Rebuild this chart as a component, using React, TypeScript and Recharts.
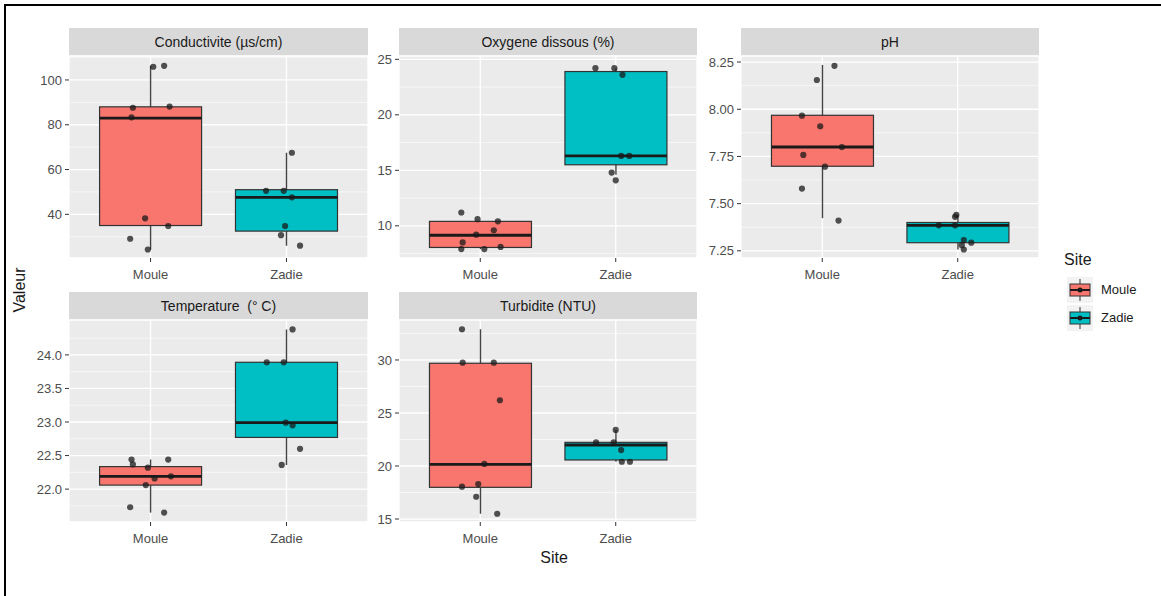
import React from "react";
import {
  ComposedChart,
  Bar,
  Scatter,
  XAxis,
  YAxis,
  CartesianGrid,
} from "recharts";

const SITES = ["Moule", "Zadie"];
const SITE_FILL = ["#F8766D", "#00BFC4"];

// box stats: [low whisker, q1, median, q3, high whisker] for Moule, Zadie
const condBox = [[24.3, 35, 83, 88, 106.3], [26.0, 32.5, 47.6, 51, 67.5]];
const condMouleVal = [105.9, 106.3, 87.6, 88.1, 83.3, 38.2, 34.8, 29.1, 24.3];
const condMouleJit = [0.02, 0.1, -0.13, 0.14, -0.14, -0.04, 0.13, -0.15, -0.02];
const condZadieVal = [67.5, 50.5, 50.5, 47.6, 34.8, 30.7, 26.0];
const condZadieJit = [0.04, -0.15, -0.02, 0.04, -0.01, -0.04, 0.1];
const condTicks = [40, 60, 80, 100];
const condDomain = [20.5, 110.7];

const oxyBox = [[7.9, 8.05, 9.15, 10.4, 10.4], [14.6, 15.5, 16.3, 23.9, 24.2]];
const oxyMouleVal = [11.2, 10.6, 10.4, 9.6, 9.2, 8.5, 8.1, 7.9, 7.9];
const oxyMouleJit = [-0.14, -0.02, 0.13, 0.1, -0.03, -0.13, 0.15, -0.14, 0.03];
const oxyZadieVal = [24.2, 24.2, 23.6, 16.3, 16.3, 14.8, 14.1];
const oxyZadieJit = [-0.15, -0.01, 0.05, 0.04, 0.1, -0.03, 0.0];
const oxyTicks = [10, 15, 20, 25];
const oxyDomain = [7.1, 25.3];

const phBox = [[7.423, 7.698, 7.8, 7.968, 8.235], [7.257, 7.293, 7.385, 7.4, 7.44]];
const phMouleVal = [8.23, 8.155, 7.966, 7.91, 7.8, 7.758, 7.696, 7.58, 7.41];
const phMouleJit = [0.09, -0.04, -0.15, -0.015, 0.145, -0.14, 0.02, -0.15, 0.12];
const phZadieVal = [7.44, 7.43, 7.385, 7.385, 7.307, 7.293, 7.28, 7.257];
const phZadieJit = [-0.01, -0.02, -0.14, -0.02, 0.045, 0.1, 0.03, 0.045];
const phTicks = [7.25, 7.5, 7.75, 8.0, 8.25];
const phDomain = [7.212, 8.282];

const tempBox = [[21.65, 22.06, 22.19, 22.335, 22.44], [22.36, 22.77, 22.99, 23.89, 24.38]];
const tempMouleVal = [22.44, 22.37, 22.32, 22.44, 22.19, 22.16, 22.06, 21.73, 21.65];
const tempMouleJit = [-0.14, -0.13, -0.02, 0.13, 0.15, 0.03, -0.035, -0.15, 0.1];
const tempZadieVal = [24.38, 23.89, 23.89, 22.99, 22.95, 22.6, 22.36];
const tempZadieJit = [0.045, -0.145, -0.02, -0.005, 0.045, 0.1, -0.035];
const tempTicks = [22, 22.5, 23, 23.5, 24];
const tempDomain = [21.51, 24.52];

const turbBox = [[15.5, 17.99, 20.16, 29.69, 32.9], [20.4, 20.57, 21.98, 22.23, 23.4]];
const turbMouleVal = [32.9, 29.75, 29.75, 26.2, 20.2, 18.05, 18.3, 17.1, 15.5];
const turbMouleJit = [-0.135, -0.13, 0.1, 0.145, 0.03, -0.135, -0.015, -0.03, 0.125];
const turbZadieVal = [23.4, 22.23, 22.23, 21.5, 20.4, 20.4];
const turbZadieJit = [0, -0.145, -0.015, 0.04, 0.045, 0.105];
const turbTicks = [15, 20, 25, 30];
const turbDomain = [14.72, 33.77];

const FONT = "'Liberation Sans', Arial, sans-serif";
const PANEL_H = 202;
const AXIS_W = 60;
const TOP_PAD = 10;

type PanelDef = {
  title: string;
  left: number;
  top: number;
  width: number;
  box: number[][];
  vals: number[][];
  jits: number[][];
  ticks: number[];
  domain: number[];
  digits: number;
};

const panels: PanelDef[] = [
  { title: "Conductivite (µs/cm)", left: 69, top: 28, width: 299, box: condBox,
    vals: [condMouleVal, condZadieVal], jits: [condMouleJit, condZadieJit],
    ticks: condTicks, domain: condDomain, digits: 0 },
  { title: "Oxygene dissous (%)", left: 399, top: 28, width: 298, box: oxyBox,
    vals: [oxyMouleVal, oxyZadieVal], jits: [oxyMouleJit, oxyZadieJit],
    ticks: oxyTicks, domain: oxyDomain, digits: 0 },
  { title: "pH", left: 741, top: 28, width: 298, box: phBox,
    vals: [phMouleVal, phZadieVal], jits: [phMouleJit, phZadieJit],
    ticks: phTicks, domain: phDomain, digits: 2 },
  { title: "Temperature  (° C)", left: 69, top: 292, width: 299, box: tempBox,
    vals: [tempMouleVal, tempZadieVal], jits: [tempMouleJit, tempZadieJit],
    ticks: tempTicks, domain: tempDomain, digits: 1 },
  { title: "Turbidite (NTU)", left: 399, top: 292, width: 298, box: turbBox,
    vals: [turbMouleVal, turbZadieVal], jits: [turbMouleJit, turbZadieJit],
    ticks: turbTicks, domain: turbDomain, digits: 0 },
];

function whiskerRange(d: any) {
  if (!d || !d.stats) return null;
  return [d.stats[0], d.stats[4]];
}

function BoxShape(props: any) {
  const { x, y, width, height, payload } = props;
  if (!payload || !payload.stats) return null;
  const [lo, q1, med, q3, hi] = payload.stats;
  const top = Math.min(y, y + height);
  const h = Math.abs(height);
  const py = (v: number) => top + (h * (hi - v)) / (hi - lo);
  const cx = x + width / 2;
  return (
    <g>
      <line x1={cx} x2={cx} y1={py(hi)} y2={py(lo)} stroke="#444" strokeWidth={1.4} />
      <rect x={x} y={py(q3)} width={width} height={py(q1) - py(q3)} fill={payload.fill} stroke="#333" strokeWidth={1.2} />
      <line x1={x} x2={x + width} y1={py(med)} y2={py(med)} stroke="#1a1a1a" strokeWidth={2.8} />
    </g>
  );
}

function Dot(props: any) {
  if (props.cx == null || props.cy == null) return null;
  return <circle cx={props.cx} cy={props.cy} r={3.1} fill="#1a1a1a" fillOpacity={0.75} />;
}

function Panel({ p }: { p: PanelDef }) {
  const rows = SITES.map((site, i) => ({ site, stats: p.box[i], fill: SITE_FILL[i] }));
  const pts = p.vals.flatMap((vs, i) => vs.map((v, k) => ({ x: i + 1 + p.jits[i][k], v })));
  const step = p.ticks[1] - p.ticks[0];
  const minor = [p.ticks[0] - step / 2, ...p.ticks.map((t) => t + step / 2)].filter(
    (m) => m > p.domain[0] && m < p.domain[1]
  );
  const pad = p.width / 22;
  const tickStyle = { fill: "#4D4D4D", fontSize: 13, fontFamily: FONT };

  return (
    <>
      <div
        style={{
          position: "absolute",
          left: p.left,
          top: p.top,
          width: p.width,
          height: 28,
          background: "#D9D9D9",
          color: "#1A1A1A",
          fontSize: 14,
          lineHeight: "28px",
          textAlign: "center",
          whiteSpace: "pre",
        }}
      >
        {p.title}
      </div>
      <div style={{ position: "absolute", left: p.left - AXIS_W, top: p.top + 28 - TOP_PAD }}>
        <ComposedChart
          width={p.width + AXIS_W}
          height={PANEL_H + 40 + TOP_PAD}
          data={rows}
          margin={{ top: TOP_PAD, right: 0, bottom: 0, left: 0 }}
          barCategoryGap="12.5%"
        >
          <CartesianGrid xAxisId="num" fill="#EBEBEB" stroke="#FFFFFF" strokeWidth={1.3} />
          <CartesianGrid xAxisId="num" yAxisId="minor" vertical={false} stroke="#FFFFFF" strokeWidth={0.6} />
          <XAxis xAxisId="cat" dataKey="site" type="category" hide height={0} padding={{ left: pad, right: pad }} />
          <XAxis
            xAxisId="num"
            dataKey="x"
            type="number"
            domain={[0.4, 2.6]}
            ticks={[1, 2]}
            interval={0}
            allowDataOverflow
            tickFormatter={(v: number) => SITES[Math.round(v) - 1] ?? ""}
            tick={tickStyle}
            tickLine={{ stroke: "#333" }}
            axisLine={false}
            tickSize={4}
            tickMargin={8}
            height={40}
          />
          <YAxis
            type="number"
            domain={p.domain}
            ticks={p.ticks}
            interval={0}
            allowDataOverflow
            tickFormatter={(v: number) => Number(v).toFixed(p.digits)}
            tick={tickStyle}
            tickLine={{ stroke: "#333" }}
            axisLine={false}
            tickSize={4}
            tickMargin={3}
            width={AXIS_W}
          />
          <YAxis
            yAxisId="minor"
            type="number"
            domain={p.domain}
            ticks={minor}
            interval={0}
            allowDataOverflow
            hide
            width={0}
          />
          <Bar xAxisId="cat" dataKey={whiskerRange} shape={BoxShape} isAnimationActive={false} />
          <Scatter xAxisId="num" data={pts} dataKey="v" shape={Dot} isAnimationActive={false} />
        </ComposedChart>
      </div>
    </>
  );
}

function LegendKey({ top, fill }: { top: number; fill: string }) {
  return (
    <svg style={{ position: "absolute", left: 1067, top }} width={26} height={26}>
      <rect x={0} y={0} width={26} height={26} fill="#F2F2F2" />
      <line x1={13} x2={13} y1={2} y2={24} stroke="#333" strokeWidth={1} />
      <rect x={3} y={7} width={20} height={12} fill={fill} stroke="#333" strokeWidth={1} />
      <line x1={3} x2={23} y1={13} y2={13} stroke="#1a1a1a" strokeWidth={2} />
      <circle cx={13} cy={13} r={2.5} fill="#1a1a1a" />
    </svg>
  );
}

export default function App() {
  return (
    <div
      style={{
        position: "absolute",
        left: 0,
        top: 0,
        width: 1161,
        height: 596,
        background: "#FFFFFF",
        fontFamily: FONT,
        overflow: "hidden",
      }}
    >
      <div
        style={{
          position: "absolute",
          left: 4,
          top: 4,
          width: 1161,
          height: 600,
          borderTop: "2.5px solid #000",
          borderLeft: "2.5px solid #000",
        }}
      />
      {panels.map((p) => (
        <Panel key={p.title} p={p} />
      ))}
      <div
        style={{
          position: "absolute",
          left: 20 - 40,
          top: 290 - 10,
          width: 80,
          height: 20,
          lineHeight: "20px",
          textAlign: "center",
          transform: "rotate(-90deg)",
          fontSize: 16,
          color: "#1A1A1A",
        }}
      >
        Valeur
      </div>
      <div
        style={{
          position: "absolute",
          left: 554 - 40,
          top: 558 - 10,
          width: 80,
          height: 20,
          lineHeight: "20px",
          textAlign: "center",
          fontSize: 16,
          color: "#1A1A1A",
        }}
      >
        Site
      </div>
      <div style={{ position: "absolute", left: 1064, top: 250, fontSize: 16, lineHeight: "20px", color: "#1A1A1A" }}>
        Site
      </div>
      <LegendKey top={277} fill={SITE_FILL[0]} />
      <LegendKey top={305} fill={SITE_FILL[1]} />
      {SITES.map((s, i) => (
        <div
          key={s}
          style={{
            position: "absolute",
            left: 1101,
            top: 281 + i * 28,
            fontSize: 13,
            lineHeight: "18px",
            color: "#1A1A1A",
          }}
        >
          {s}
        </div>
      ))}
    </div>
  );
}
